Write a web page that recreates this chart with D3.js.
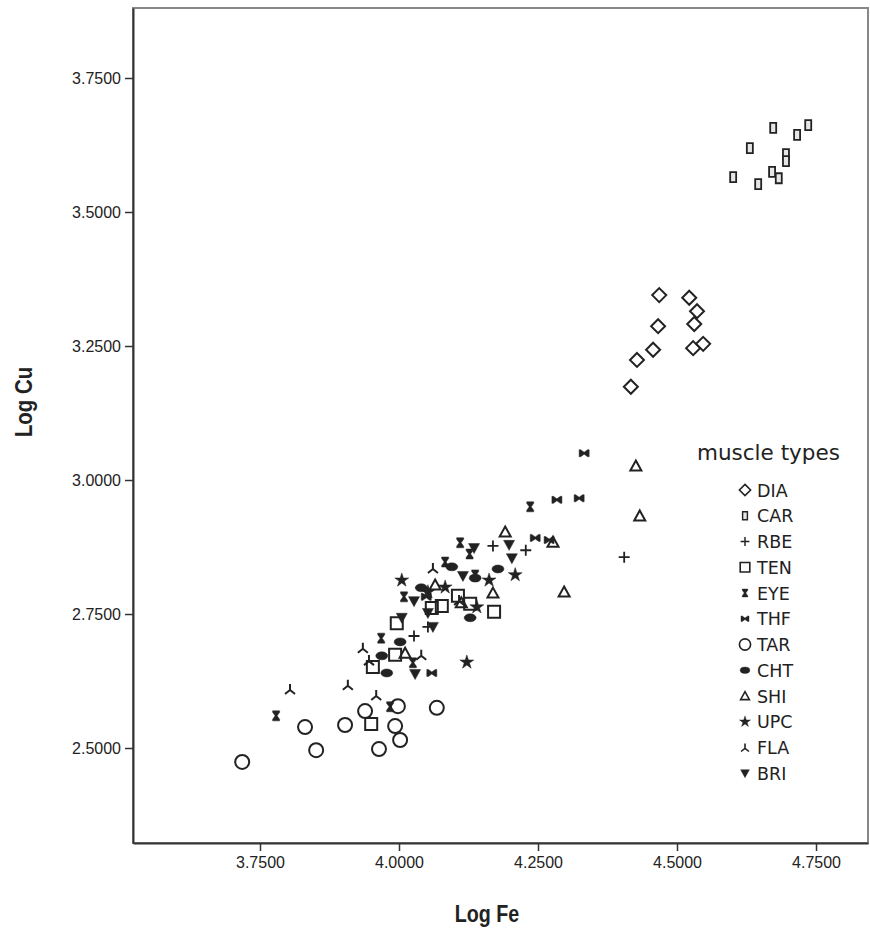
<!DOCTYPE html>
<html>
<head>
<meta charset="utf-8">
<script src="https://cdn.jsdelivr.net/npm/d3@7"></script>
<style>
  body { margin: 0; background: #fff; }
  svg { font-family: "Liberation Sans", Arial, sans-serif; }
</style>
</head>
<body>
<div id="chart"></div>
<script>
// muscle types in legend order
var types = ["DIA", "CAR", "RBE", "TEN", "EYE", "THF", "TAR", "CHT", "SHI", "UPC", "FLA", "BRI"];

// Log Fe / Log Cu per muscle type
var diaFe = [4.468, 4.522, 4.536, 4.466, 4.531, 4.457, 4.428, 4.529, 4.547, 4.417];
var diaCu = [3.345, 3.340, 3.315, 3.287, 3.291, 3.243, 3.224, 3.246, 3.254, 3.174];
var carFe = [4.673, 4.736, 4.716, 4.631, 4.696, 4.696, 4.671, 4.683, 4.601, 4.646];
var carCu = [3.657, 3.662, 3.644, 3.619, 3.608, 3.595, 3.575, 3.563, 3.565, 3.552];
var rbeFe = [4.169, 4.228, 4.405, 4.027, 4.052];
var rbeCu = [2.877, 2.869, 2.856, 2.709, 2.726];
var tenFe = [3.950, 3.953, 3.993, 3.996, 4.059, 4.077, 4.106, 4.128, 4.171];
var tenCu = [2.545, 2.651, 2.674, 2.733, 2.761, 2.765, 2.784, 2.769, 2.754];
var eyeFe = [3.779, 4.236, 4.110, 4.025, 3.968, 3.984, 4.009, 4.083, 4.127, 4.137];
var eyeCu = [2.560, 2.950, 2.883, 2.659, 2.705, 2.577, 2.782, 2.847, 2.862, 2.823];
var thfFe = [4.333, 4.284, 4.324, 4.245, 4.270, 4.059, 4.049];
var thfCu = [3.050, 2.963, 2.966, 2.892, 2.888, 2.640, 2.782];
var tarFe = [3.718, 3.831, 3.851, 3.903, 3.939, 3.998, 3.993, 4.002, 3.964, 4.068];
var tarCu = [2.474, 2.539, 2.496, 2.543, 2.569, 2.578, 2.541, 2.515, 2.498, 2.575];
var chtFe = [4.178, 4.128, 4.002, 3.978, 3.969, 4.040, 4.137, 4.095];
var chtCu = [2.834, 2.743, 2.698, 2.640, 2.672, 2.799, 2.817, 2.838];
var shiFe = [4.191, 4.426, 4.433, 4.297, 4.169, 4.065, 4.112, 4.011, 4.277];
var shiCu = [2.903, 3.026, 2.933, 2.791, 2.789, 2.804, 2.771, 2.677, 2.884];
var upcFe = [4.122, 4.209, 4.162, 4.140, 4.083, 4.005, 4.052];
var upcCu = [2.660, 2.823, 2.813, 2.763, 2.800, 2.813, 2.791];
var flaFe = [3.804, 3.908, 3.959, 3.935, 4.040, 4.061, 4.108, 3.946];
var flaCu = [2.610, 2.618, 2.599, 2.687, 2.674, 2.836, 2.776, 2.664];
var briFe = [4.029, 4.198, 4.203, 4.061, 4.027, 4.005, 4.052, 4.135, 4.115];
var briCu = [2.638, 2.879, 2.854, 2.726, 2.774, 2.743, 2.752, 2.873, 2.821];

var xTicks = [3.75, 4.0, 4.25, 4.5, 4.75];
var yTicks = [2.5, 2.75, 3.0, 3.25, 3.5, 3.75];

var seriesFe = [diaFe, carFe, rbeFe, tenFe, eyeFe, thfFe, tarFe, chtFe, shiFe, upcFe, flaFe, briFe];
var seriesCu = [diaCu, carCu, rbeCu, tenCu, eyeCu, thfCu, tarCu, chtCu, shiCu, upcCu, flaCu, briCu];

var areaWidth = 870, areaHeight = 936;
var plotLeft = 133, plotRight = 868, plotTop = 8, plotBottom = 843;
var ink = "#222";

var xScale = d3.scaleLinear().domain([3.5216, 4.8435]).range([plotLeft, plotRight]);
var yScale = d3.scaleLinear().domain([2.3228, 3.8806]).range([plotBottom, plotTop]);

// marker shapes
var shapes = {
    DIA: { d: "M0,-7L7,0L0,7L-7,0Z", fill: "none", sw: 2 },
    CAR: { d: "M-3,-5H3V5H-3Z", fill: "#e6e6e6", sw: 1.8 },
    RBE: { d: "M-5.5,0H5.5M0,-5.5V5.5", fill: "none", sw: 1.8 },
    TEN: { d: "M-6,-6H6V6H-6Z", fill: "none", sw: 2 },
    EYE: { d: "M-3.5,-5H3.5V-3.5L1,0L3.5,3.5V5H-3.5V3.5L-1,0L-3.5,-3.5Z", fill: ink, sw: 0.5 },
    THF: { d: "M-5,-3.5V3.5H-3.5L0,1L3.5,3.5H5V-3.5H3.5L0,-1L-3.5,-3.5Z", fill: ink, sw: 0.5 },
    TAR: { d: "M7,0A7,7 0 1,1 -7,0A7,7 0 1,1 7,0Z", fill: "none", sw: 2 },
    CHT: { d: "M6,0A6,4 0 1,1 -6,0A6,4 0 1,1 6,0Z", fill: ink, sw: 0.5 },
    SHI: { d: "M0,-5.5L5.5,4.5H-5.5Z", fill: "none", sw: 2 },
    UPC: { d: d3.symbol(d3.symbolStar).size(60)(), fill: ink, sw: 0.5 },
    FLA: { d: "M0,-5V1M0,1L-5,5M0,1L5,5", fill: "none", sw: 2 },
    BRI: { d: "M-5.5,-4.5H5.5L0,5.5Z", fill: ink, sw: 0.5 }
};

var svg = d3.select("#chart").append("svg")
    .attr("width", areaWidth).attr("height", areaHeight);

// frame (top/right light), axes drawn over it
svg.append("rect")
    .attr("x", plotLeft).attr("y", plotTop)
    .attr("width", plotRight - plotLeft).attr("height", plotBottom - plotTop)
    .style("fill", "none").style("stroke", "#888").style("stroke-width", 2);

var xAxis = svg.append("g")
    .attr("transform", "translate(0," + plotBottom + ")")
    .call(d3.axisBottom(xScale).tickValues(xTicks).tickFormat(d3.format(".4f"))
        .tickSizeInner(8).tickSizeOuter(0).tickPadding(6));

var yAxis = svg.append("g")
    .attr("transform", "translate(" + plotLeft + ",0)")
    .call(d3.axisLeft(yScale).tickValues(yTicks).tickFormat(d3.format(".4f"))
        .tickSizeInner(8).tickSizeOuter(0).tickPadding(4));

[xAxis, yAxis].forEach(function(g) {
    g.select(".domain").style("stroke", "#333").style("stroke-width", 2);
    g.selectAll(".tick line").style("stroke", "#333").style("stroke-width", 1.5);
    g.selectAll(".tick text")
        .style("font-size", "16px")
        .style("font-family", "Liberation Sans, Arial, sans-serif")
        .style("fill", ink);
});

// points
var pts = [];
types.forEach(function(t, i) {
    seriesFe[i].forEach(function(fe, j) {
        pts.push({ type: t, fe: fe, cu: seriesCu[i][j] });
    });
});

svg.append("g")
    .selectAll("path")
    .data(pts)
    .enter()
    .append("path")
    .attr("transform", function(d) {
        return "translate(" + xScale(d.fe) + "," + yScale(d.cu) + ")";
    })
    .attr("d", function(d) { return shapes[d.type].d; })
    .style("fill", function(d) { return shapes[d.type].fill; })
    .style("stroke", ink)
    .style("stroke-width", function(d) { return shapes[d.type].sw; });

// axis titles (narrow bold look)
svg.append("text")
    .attr("transform", "translate(487,922) scale(0.82,1)")
    .attr("text-anchor", "middle")
    .style("font-size", "24px").style("font-weight", "bold").style("fill", ink)
    .text("Log Fe");

svg.append("text")
    .attr("transform", "translate(32,402) rotate(-90) scale(0.85,1)")
    .attr("text-anchor", "middle")
    .style("font-size", "24px").style("font-weight", "bold").style("fill", ink)
    .text("Log Cu");

// legend
var legend = svg.append("g").style("font-family", "DejaVu Sans, sans-serif");
legend.append("text")
    .attr("x", 697).attr("y", 460)
    .style("font-size", "21.5px").style("fill", ink)
    .text("muscle types");

var rows = legend.selectAll(".row")
    .data(types)
    .enter()
    .append("g")
    .attr("transform", function(d, i) {
        return "translate(745," + (490 + i * 25.75) + ")";
    });

rows.append("path")
    .attr("d", function(d) { return shapes[d].d; })
    .attr("transform", "scale(0.8)")
    .style("fill", function(d) { return shapes[d].fill; })
    .style("stroke", ink)
    .style("stroke-width", function(d) { return shapes[d].sw; });

rows.append("text")
    .attr("x", 12).attr("y", 6.5)
    .style("font-size", "17.5px").style("fill", ink)
    .text(function(d) { return d; });
</script>
</body>
</html>
